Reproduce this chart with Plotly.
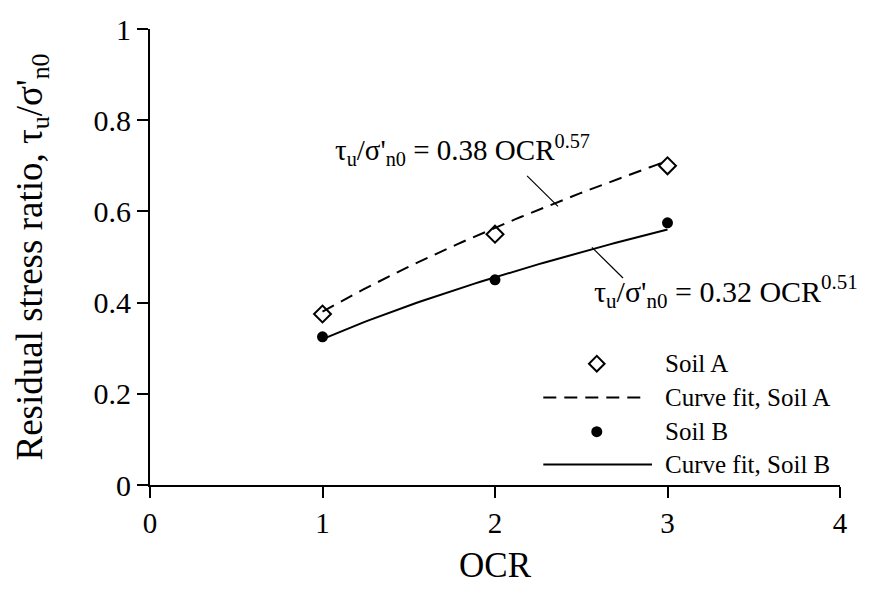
import numpy as np
import plotly.graph_objects as go

# Measured residual stress ratio vs OCR
ocr = [1, 2, 3]
soil_a = [0.375, 0.55, 0.70]
soil_b = [0.325, 0.45, 0.575]

# Power-law fits: ratio = coef * OCR^exp
fit_a = (0.38, 0.57)
fit_b = (0.32, 0.51)

x_ticks = [0, 1, 2, 3, 4]
y_ticks = [0, 0.2, 0.4, 0.6, 0.8, 1]
y_tick_text = ["0", "0.2", "0.4", "0.6", "0.8", "1"]

FONT = "Liberation Serif, Times New Roman, serif"
DASH = "13px,8px"

ocr_fit = np.linspace(1, 3, 60)
curve_a = fit_a[0] * ocr_fit ** fit_a[1]
curve_b = fit_b[0] * ocr_fit ** fit_b[1]

fig = go.Figure()
fig.add_trace(go.Scatter(x=ocr_fit, y=curve_a, mode="lines",
                         line=dict(color="black", width=2, dash=DASH)))
fig.add_trace(go.Scatter(x=ocr_fit, y=curve_b, mode="lines",
                         line=dict(color="black", width=2)))
fig.add_trace(go.Scatter(x=ocr, y=soil_a, mode="markers",
                         marker=dict(symbol="diamond-open", size=13, color="black",
                                     line=dict(width=2, color="black"))))
fig.add_trace(go.Scatter(x=ocr, y=soil_b, mode="markers",
                         marker=dict(symbol="circle", size=11, color="black")))

# Hand-built legend in the lower right
leg_x_sym = 2.59
leg_x_line_a = (2.28, 2.87)
leg_x_line_b = (2.28, 2.91)
leg_x_text = 2.975
leg_rows = [0.266, 0.192, 0.117, 0.045]
leg_labels = ["Soil A", "Curve fit, Soil A", "Soil B", "Curve fit, Soil B"]

fig.add_trace(go.Scatter(x=[leg_x_sym], y=[leg_rows[0]], mode="markers",
                         marker=dict(symbol="diamond-open", size=12, color="black",
                                     line=dict(width=2, color="black"))))
fig.add_trace(go.Scatter(x=list(leg_x_line_a), y=[leg_rows[1]] * 2, mode="lines",
                         line=dict(color="black", width=2, dash=DASH)))
fig.add_trace(go.Scatter(x=[leg_x_sym], y=[leg_rows[2]], mode="markers",
                         marker=dict(symbol="circle", size=11, color="black")))
fig.add_trace(go.Scatter(x=list(leg_x_line_b), y=[leg_rows[3]] * 2, mode="lines",
                         line=dict(color="black", width=2)))
for yv, lab in zip(leg_rows, leg_labels):
    fig.add_annotation(x=leg_x_text, y=yv, text=lab, showarrow=False,
                       xanchor="left", yanchor="middle",
                       font=dict(family=FONT, size=25, color="black"))

# Fit equations with leader lines
eq_a = "τ<sub>u</sub>/σ'<sub>n0</sub> = 0.38 OCR<sup>0.57</sup>"
eq_b = "τ<sub>u</sub>/σ'<sub>n0</sub> = 0.32 OCR<sup>0.51</sup>"
fig.add_annotation(x=1.06, y=0.735, text=eq_a, showarrow=False,
                   xanchor="left", yanchor="middle",
                   font=dict(family=FONT, size=29, color="black"))
fig.add_annotation(x=2.56, y=0.425, text=eq_b, showarrow=False,
                   xanchor="left", yanchor="middle",
                   font=dict(family=FONT, size=30, color="black"))
fig.add_shape(type="line", x0=2.186, y0=0.678, x1=2.365, y1=0.611,
              line=dict(color="black", width=1.2))
fig.add_shape(type="line", x0=2.562, y0=0.521, x1=2.742, y1=0.454,
              line=dict(color="black", width=1.2))

axis_common = dict(showline=True, linecolor="black", linewidth=2,
                   ticks="outside", ticklen=11, tickwidth=2, tickcolor="black",
                   showgrid=False, zeroline=False)

fig.update_xaxes(range=[0, 4], tickvals=x_ticks, ticktext=[str(v) for v in x_ticks],
                 tickfont=dict(family=FONT, size=29, color="black"),
                 title=dict(text="OCR", font=dict(family=FONT, size=35, color="black"),
                            standoff=15),
                 **axis_common)
fig.update_yaxes(range=[0, 1], tickvals=y_ticks, ticktext=y_tick_text,
                 tickfont=dict(family=FONT, size=30, color="black"),
                 title=dict(text="Residual stress ratio, τ<sub>u</sub>/σ'<sub>n0</sub>",
                            font=dict(family=FONT, size=37, color="black"), standoff=40),
                 **axis_common)

fig.update_layout(width=869, height=590, showlegend=False,
                  plot_bgcolor="white", paper_bgcolor="white",
                  margin=dict(l=150, r=29, t=23, b=104))

fig.write_html("out.html")
